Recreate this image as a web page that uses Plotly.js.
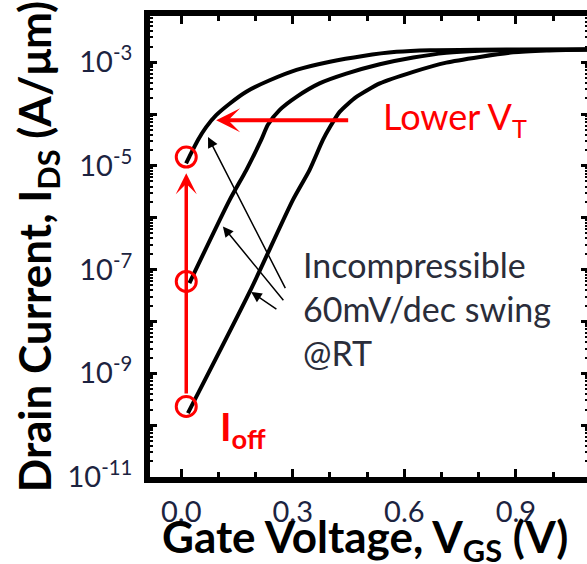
<!DOCTYPE html>
<html><head><meta charset="utf-8">
<script src="https://cdn.plot.ly/plotly-3.0.1.min.js"></script>
<style>html,body{margin:0;padding:0;overflow:hidden;background:#fff}#chart{width:592px;height:564px}</style>
</head><body><div id="chart"></div>
<script>
// Gate voltage (V) and drain current (A/um)
const vgsLow = [0.013, 0.022, 0.045, 0.067, 0.094, 0.130, 0.175, 0.238, 0.31, 0.40, 0.489, 0.579, 0.669, 0.80, 0.95, 1.094];
const idsLow = [1.12e-5, 1.51e-5, 3.16e-5, 5.6e-5, 9.5e-5, 1.58e-4, 2.69e-4, 4.47e-4, 7.1e-4, 1.02e-3, 1.32e-3, 1.58e-3, 1.70e-3, 1.74e-3, 1.75e-3, 1.76e-3];
const vgsMid = [0.022, 0.130, 0.175, 0.215, 0.233, 0.265, 0.31, 0.372, 0.444, 0.534, 0.624, 0.713, 0.803, 0.90, 1.094];
const idsMid = [5.5e-8, 2.19e-6, 8.3e-6, 3.16e-5, 6.2e-5, 1.20e-4, 2.14e-4, 3.89e-4, 6.0e-4, 9.1e-4, 1.23e-3, 1.51e-3, 1.66e-3, 1.72e-3, 1.76e-3];
const vgsHigh = [0.018, 0.184, 0.30, 0.345, 0.381, 0.40, 0.426, 0.471, 0.534, 0.624, 0.713, 0.803, 0.893, 0.983, 1.094];
const idsHigh = [1.7e-10, 3.7e-8, 2.19e-6, 8.3e-6, 3.16e-5, 5.6e-5, 1.10e-4, 2.14e-4, 3.89e-4, 6.5e-4, 9.8e-4, 1.26e-3, 1.55e-3, 1.68e-3, 1.76e-3];

// I_off circles at V_GS ~ 0
const ioffV = [0.0135, 0.0135, 0.0135];
const ioffI = [1.48e-5, 5.9e-8, 2.3e-10];

// Arrows: [tailV, tailI, headV, headI]
const ioffArrow = [0.0135, 3.8e-10, 0.0135, 7.2e-6];
const vtArrow = [0.453, 7.6e-5, 0.094, 7.6e-5];
const swingArrows = [
  [0.282, 4.1e-8, 0.072, 3.6e-5],
  [0.278, 2.4e-8, 0.112, 6.8e-7],
  [0.260, 1.66e-8, 0.188, 3.7e-8]
];

// Axis ticks
const xTickVals = [0, 0.3, 0.6, 0.9];
const xTickText = ['0.0', '0.3', '0.6', '0.9'];
const xMinorVals = [-0.1, 0.1, 0.2, 0.4, 0.5, 0.7, 0.8, 1.0, 1.1];
const yDecades = [-11, -10, -9, -8, -7, -6, -5, -4, -3, -2];
const yLabeled = [-11, -9, -7, -5, -3];

const L = Math.log10;
const yTickVals = yDecades.map(d => Math.pow(10, d));
const yTickText = yDecades.map(d => yLabeled.includes(d) ? '10<sup>' + d + '</sup>' : '');
const yMinorVals = [];
yDecades.forEach(d => { for (let k = 2; k <= 9; k++) yMinorVals.push(k * Math.pow(10, d)); });

const curveLine = {color: '#000', width: 4, shape: 'spline', smoothing: 0.6};
const traces = [
  {x: vgsLow, y: idsLow, mode: 'lines', line: curveLine, hoverinfo: 'skip'},
  {x: vgsMid, y: idsMid, mode: 'lines', line: curveLine, hoverinfo: 'skip'},
  {x: vgsHigh, y: idsHigh, mode: 'lines', line: curveLine, hoverinfo: 'skip'},
  {x: ioffV, y: ioffI, mode: 'markers', marker: {symbol: 'circle-open', size: 20, color: '#ff0000', line: {width: 3, color: '#ff0000'}}, hoverinfo: 'skip'}
];

function arrowAnn(a, color, width, head, size) {
  return {x: a[2], y: L(a[3]), ax: a[0], ay: L(a[1]), xref: 'x', yref: 'y', axref: 'x', ayref: 'y',
    text: '', showarrow: true, arrowcolor: color, arrowwidth: width, arrowhead: head, arrowsize: size, standoff: 0, startstandoff: 0};
}

const titleFont = {family: 'Lato', size: 44, color: '#000', weight: 'bold'};

const annotations = [
  arrowAnn(ioffArrow, '#ff0000', 3.5, 3, 1),
  arrowAnn(vtArrow, '#ff0000', 4, 3, 1),
  ...swingArrows.map(a => arrowAnn(a, '#000', 1.5, 2, 1.4)),
  {x: 0.538, y: L(8.3e-5), xref: 'x', yref: 'y', xanchor: 'left', yanchor: 'middle', showarrow: false,
    text: 'Lower V<sub>T</sub>', font: {family: 'Lato', size: 36, color: '#ff0000'}},
  {x: 0.322, y: L(1.75e-8), xref: 'x', yref: 'y', xanchor: 'left', yanchor: 'middle', align: 'left', showarrow: false,
    text: 'Incompressible<br>60mV/dec swing<br>@RT', font: {family: 'Lato', size: 34, color: '#2a2d3a'}},
  {x: 0.1, y: L(8.5e-11), xref: 'x', yref: 'y', xanchor: 'left', yanchor: 'middle', showarrow: false,
    text: 'I<sub>off</sub>', font: {family: 'Lato', size: 39, color: '#ff0000', weight: 'bold'}},
  // x-axis title
  {x: 0.5, y: 0, xref: 'paper', yref: 'paper', xanchor: 'center', yanchor: 'middle', yshift: -62, xshift: -4,
    showarrow: false, text: 'Gate Voltage, V<sub>GS</sub> (V)', font: titleFont}
];

const tickFont = {family: 'Lato', size: 29, color: '#1c2340'};

const layout = {
  width: 592, height: 564,
  margin: {l: 150, r: 4, t: 16, b: 87},
  paper_bgcolor: '#fff', plot_bgcolor: '#fff',
  showlegend: false,
  xaxis: {
    range: [-0.084, 1.094], showgrid: false, zeroline: false,
    showline: true, linewidth: 6, linecolor: '#000', mirror: 'allticks',
    ticks: 'inside', ticklen: 8, tickwidth: 3, tickcolor: '#000',
    tickvals: xTickVals, ticktext: xTickText, tickfont: tickFont, ticklabelstandoff: 4,
    minor: {tickvals: xMinorVals, ticks: 'inside', ticklen: 5, tickwidth: 3, tickcolor: '#000'}
  },
  yaxis: {
    type: 'log', range: [-11, -2.11], showgrid: false, zeroline: false,
    showline: true, linewidth: 6, linecolor: '#000', mirror: 'allticks',
    ticks: 'inside', ticklen: 7, tickwidth: 3, tickcolor: '#000',
    tickvals: yTickVals, ticktext: yTickText, tickfont: tickFont, ticklabelstandoff: 6,
    minor: {tickvals: yMinorVals, ticks: 'inside', ticklen: 3, tickwidth: 2, tickcolor: '#000'},
    title: {text: 'Drain Current, I<sub>DS</sub> (A/μm)', font: titleFont, standoff: 2}
  },
  annotations: annotations
};

Plotly.newPlot('chart', traces, layout, {displayModeBar: false, staticPlot: true});
</script>
</body></html>
